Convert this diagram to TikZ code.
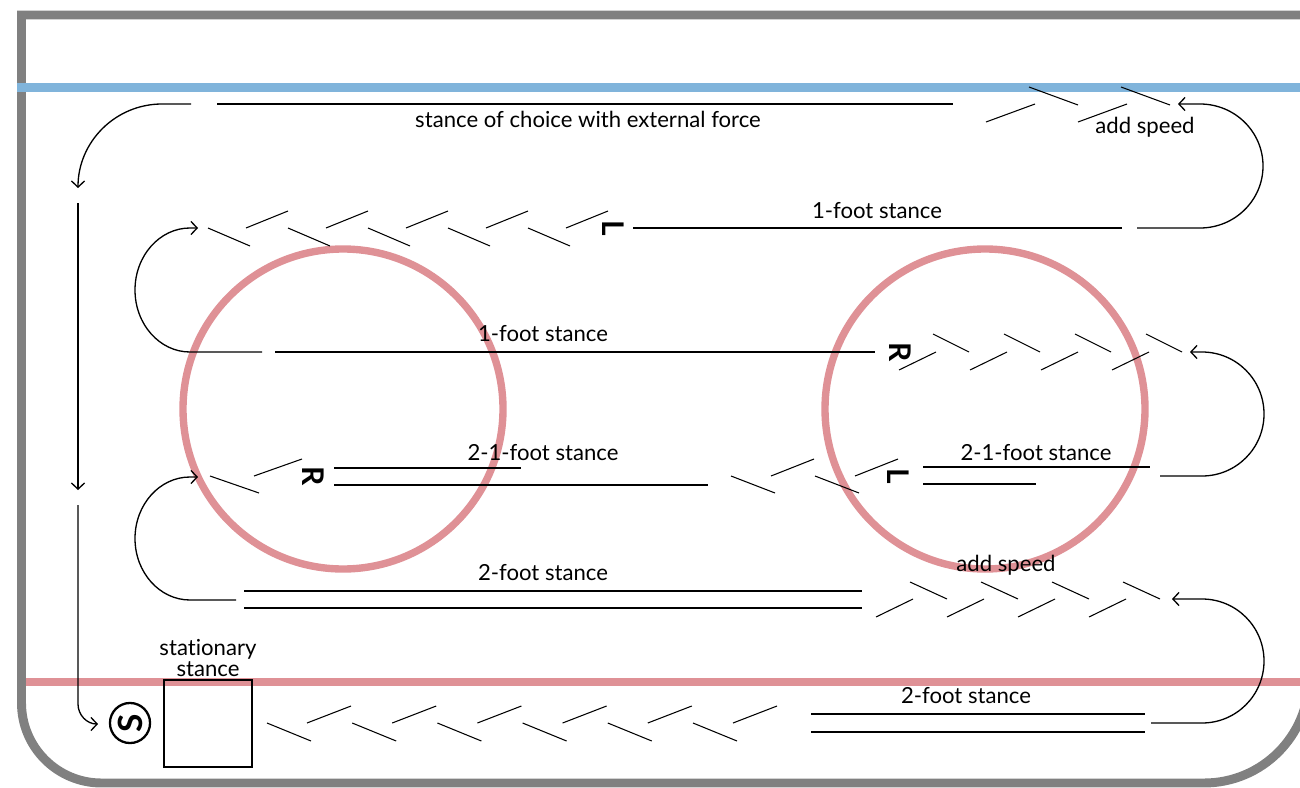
\documentclass[tikz,border=0pt]{standalone}
\usepackage{fontspec}
\setmainfont{Lato}[Ligatures=NoCommon]
\usetikzlibrary{arrows.meta}

\definecolor{boards}{HTML}{808080}
\definecolor{blueline}{HTML}{80B4DB}
\definecolor{goalline}{HTML}{DF9196}

\tikzset{
  track/.style={line width=0.75pt},
  stride/.style={line width=0.6pt},
  turn/.style={track, -{Straight Barb[length=3.5pt,width=7.5pt]}},
  lbl/.style={font=\fontsize{12.6}{10}\selectfont, inner sep=0pt},
  foot/.style={font=\bfseries\fontsize{17}{17}\selectfont, rotate=-90, inner sep=0pt},
}

\begin{document}
\begin{tikzpicture}[x=0.02cm,y=-0.02cm]
  \useasboundingbox (0,0) rectangle (1300,787);
  \clip (0,0) rectangle (1300,787);

  \draw[boards, line width=5.1pt] (1309,15) -- (21.5,15) -- (21.5,703)
    arc[start angle=180,end angle=90,radius=80] -- (1204,783)
    arc[start angle=90,end angle=0,radius=105] -- cycle;
  \draw[blueline, line width=5.1pt] (17,87.5) -- (1300,87.5);
  \draw[goalline, line width=4.6pt] (26,682) -- (1300,682);
  \draw[goalline, line width=4.2pt] (343,409) circle[radius=160];
  \draw[goalline, line width=4.2pt] (985,409) circle[radius=160];

  \node[lbl] (choice) at (588,119) {stance of choice with external force};
  \node[lbl] (speedtop) at (1145,127) {add speed};
  \node[lbl] (onefootA) at (877,211) {1-foot stance};
  \node[lbl] (onefootB) at (543,334) {1-foot stance};
  \node[lbl] (twooneA) at (543,453) {2-1-foot stance};
  \node[lbl] (twooneB) at (1036,453) {2-1-foot stance};
  \node[lbl] (speedlow) at (1006,565) {add speed};
  \node[lbl] (twofootA) at (543,573) {2-foot stance};
  \node[lbl] (twofootB) at (966,696) {2-foot stance};
  \node[lbl, align=center] (stat) at (208,658) {stationary\\stance};

  \node[foot] (L1) at (613,228) {L};
  \node[foot] (R1) at (900,352) {R};
  \node[foot] (R2) at (313,476) {R};
  \node[foot] (L2) at (898,476) {L};
  \node[draw, circle, line width=1.3pt, minimum size=22.8pt, inner sep=0pt,
    font=\bfseries\fontsize{19}{19}\selectfont, rotate=90] (start) at (130,723) {S};
  \node[draw, line width=1.2pt, minimum width=50pt, minimum height=49.5pt] (box) at (208,723.5) {};

  \draw[turn] (191,104) -- (162,104) arc[start angle=270,end angle=180,radius=84];
  \draw[turn] (78,203) -- (78,490);
  \draw[turn] (78,505) -- (78,704) arc[start angle=180,end angle=90,radius=20];
  \draw[turn] (1137,228) -- (1200,228) arc[start angle=90,end angle=-90,x radius=63,y radius=62] -- (1178,104);
  \draw[turn] (262,352) -- (190,352) arc[start angle=90,end angle=270,x radius=55,y radius=62] -- (198,228);
  \draw[turn] (1160,476) -- (1202,476) arc[start angle=90,end angle=-90,radius=62] -- (1190,352);
  \draw[turn] (236,600) -- (190,600) arc[start angle=90,end angle=270,x radius=55,y radius=61.5] -- (198,477);
  \draw[turn] (1151,723) -- (1202,723) arc[start angle=90,end angle=-90,radius=62] -- (1172,599);

  \draw[track] (217,104) -- (953,104);
  \draw[track] (633,228) -- (1122,228);
  \draw[track] (275,352) -- (875,352);
  \draw[track] (334,468) -- (521,468);
  \draw[track] (334,485) -- (708,485);
  \draw[track] (923,467) -- (1150,467);
  \draw[track] (923,484) -- (1036,484);
  \draw[track] (244,591) -- (862,591);
  \draw[track] (244,608) -- (862,608);
  \draw[track] (811,714) -- (1145,714);
  \draw[track] (811,732) -- (1145,732);

  \foreach \x in {986,1078} {
    \draw[stride] (\x,122) -- ++(49,-18);
    \draw[stride] (\x+43,87) -- ++(49,18);
  }
  \foreach \x in {208,288,...,528} {
    \draw[stride] (\x,228) -- ++(42,18);
    \draw[stride] (\x+38,228) -- ++(42,-17);
  }
  \foreach \x in {899,970,1041,1112} {
    \draw[stride] (\x,370) -- ++(37,-18);
    \draw[stride] (\x+34,334) -- ++(36,18);
  }
  \draw[stride] (210,476) -- ++(49,17);
  \draw[stride] (254,476) -- ++(48,-17);
  \foreach \x in {731,815} {
    \draw[stride] (\x,476) -- ++(44,17);
    \draw[stride] (\x+40,476) -- ++(43,-17);
  }
  \foreach \x in {876,947,1018,1089} {
    \draw[stride] (\x,617) -- ++(37,-18);
    \draw[stride] (\x+34,582) -- ++(37,17);
  }
  \foreach \i in {0,...,5} {
    \draw[stride] ({267+85.2*\i},723) -- ++(44,18);
    \draw[stride] ({307+85.2*\i},723) -- ++(44,-17);
  }
\end{tikzpicture}
\end{document}
